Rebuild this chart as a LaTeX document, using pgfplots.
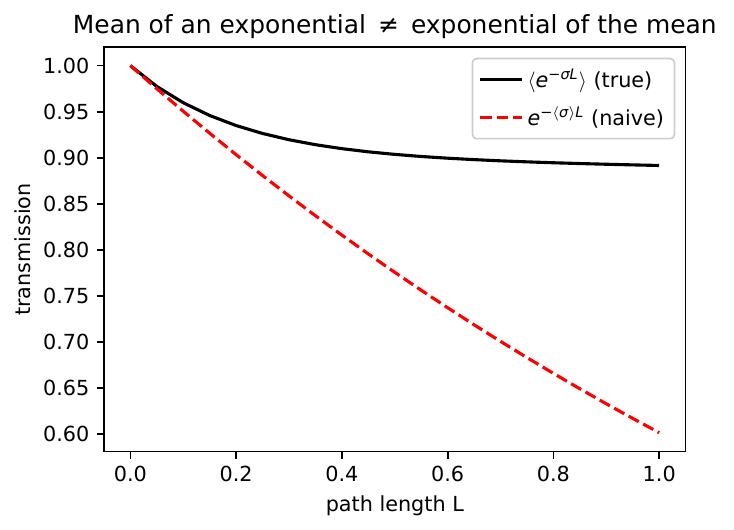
\documentclass[border=0pt]{standalone}
\usepackage{fontspec}
\setmainfont{DejaVu Sans}
\usepackage{pgfplots}
\pgfplotsset{compat=1.18}
\begin{document}
\begin{tikzpicture}
\begin{axis}[
  at={(0pt,0pt)}, anchor=south west,
  scale only axis, width=280.3pt, height=194.8pt,
  xmin=-0.05, xmax=1.05, ymin=0.5812, ymax=1.0199,
  xtick={0,0.2,0.4,0.6,0.8,1.0},
  ytick={0.60,0.65,0.70,0.75,0.80,0.85,0.90,0.95,1.00},
  /pgf/number format/assume math mode=true,
  xticklabel style={/pgf/number format/.cd, fixed, fixed zerofill, precision=1},
  yticklabel style={/pgf/number format/.cd, fixed, fixed zerofill, precision=2},
  ticklabel style={font=\fontsize{10}{12}\selectfont},
  tick align=outside, major tick length=3.5pt,
  tick style={line width=0.8pt, black},
  axis line style={line width=0.8pt},
  xtick pos=bottom, ytick pos=left,
  title={Mean of an exponential \,≠\, exponential of the mean},
  every axis title/.style={font=\fontsize{12}{14}\selectfont, at={(axis description cs:0.5,1)}, anchor=base, inner sep=0pt, yshift=6.7pt},
  xlabel={path length L},
  every axis x label/.style={font=\fontsize{10}{12}\selectfont, at={(axis description cs:0.5,0)}, anchor=base, inner sep=0pt, yshift=-28.9pt},
  ylabel={transmission},
  every axis y label/.style={font=\fontsize{10}{12}\selectfont, at={([xshift=-35.2pt]axis description cs:0,0.5)}, rotate=90, anchor=base, inner sep=0pt},
  legend style={at={(1,1)}, anchor=north east, xshift=-5pt, yshift=-5pt,
    draw=black!20, rounded corners=2pt, line width=0.8pt,
    font=\fontsize{10}{12}\selectfont, row sep=4pt, inner xsep=3pt, inner ysep=3pt,
    cells={anchor=west}},
  legend image code/.code={\draw[#1] (0pt,0pt) -- (20pt,0pt);},
]
\addplot[black, line width=1.5pt] coordinates {
(0,1.0) (0.05,0.97743) (0.1,0.95975) (0.15,0.94589) (0.2,0.93499) (0.25,0.92640)
(0.3,0.91961) (0.35,0.91423) (0.4,0.90993) (0.45,0.90649) (0.5,0.90371)
(0.55,0.90144) (0.6,0.89958) (0.65,0.89803) (0.7,0.89672) (0.75,0.89560)
(0.8,0.89463) (0.85,0.89378) (0.9,0.89301) (0.95,0.89232) (1.0,0.89167)
};
\addlegendentry{$\langle$\textit{e}\textsuperscript{−\textit{σL}}$\rangle$ (true)}
\addplot[red, line width=1.5pt, dash pattern=on 5.55pt off 2.4pt] coordinates {
(0,1.0) (0.05,0.97492) (0.1,0.95047) (0.15,0.92663) (0.2,0.90339) (0.25,0.88073)
(0.3,0.85864) (0.35,0.83711) (0.4,0.81611) (0.45,0.79565) (0.5,0.77569)
(0.55,0.75625) (0.6,0.73727) (0.65,0.71878) (0.7,0.70075) (0.75,0.68318)
(0.8,0.66604) (0.85,0.64933) (0.9,0.63304) (0.95,0.61719) (1.0,0.60170)
};
\addlegendentry{\textit{e}\textsuperscript{−$\langle$\textit{σ}$\rangle$\textit{L}} (naive)}
\end{axis}
\pgfresetboundingbox
\path (-50.1pt,-37.7pt) rectangle (303.6pt,217.6pt);
\end{tikzpicture}
\end{document}
